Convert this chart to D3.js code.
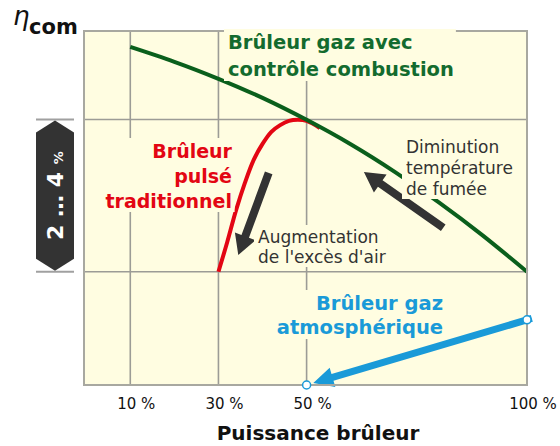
<!DOCTYPE html>
<html>
<head>
<meta charset="utf-8">
<script src="https://cdn.jsdelivr.net/npm/d3@7/dist/d3.min.js"></script>
<style>
  body { margin: 0; background: #fff; }
  text { font-family: "DejaVu Sans", Verdana, sans-serif; }
</style>
</head>
<body>
<div id="chart"></div>
<script>
// burner efficiency vs burner power

var xTicks = [10, 30, 50, 100];
var xTickLabels = ["10 %", "30 %", "50 %", "100 %"];
var yGrid = [32, 75];

// modulating gas burner with combustion control
var controlPower = [10, 20, 30, 40, 50, 60, 70, 80, 90, 100];
var controlEff = [95.5, 91.3, 86.5, 81.1, 74.9, 68.0, 60.2, 51.6, 42.2, 32];

// traditional forced draught burner
var pulsedPower = [30, 32, 34, 36, 38, 40, 42, 44, 46, 48, 50, 53];
var pulsedEff = [32, 40.4, 49.4, 57.1, 63.6, 68.1, 71.5, 73.4, 74.6, 74.9, 74.6, 72.6];

// atmospheric burner
var atmoPower = [100, 50];
var atmoEff = [18.4, 0];

// trend arrows [power, efficiency] tail -> head
var arrowFumes = [[81, 44.4], [63, 60.2]];
var arrowAir = [[41.4, 59.9], [34.5, 36.7]];

var width = 560,
    height = 446,
    bg = "#fffde1";

var svg = d3.select("#chart").append("svg")
  .attr("width", width)
  .attr("height", height);

var x = d3.scaleLinear().domain([-0.5, 100]).range([84, 527]);
var y = d3.scaleLinear().domain([0, 100]).range([385, 31]);

// plot background
svg.append("rect")
  .attr("x", x(-0.5)).attr("y", y(100))
  .attr("width", x(100) - x(-0.5)).attr("height", y(0) - y(100))
  .attr("fill", bg);

// grid
svg.selectAll(".vgrid")
  .data(xTicks.filter(function(d) { return d < 100; }))
  .enter().append("line")
  .attr("x1", function(d) { return x(d); }).attr("x2", function(d) { return x(d); })
  .attr("y1", y(100)).attr("y2", y(0))
  .attr("stroke", "#9c9c96").attr("stroke-width", 1.6);

svg.selectAll(".hgrid")
  .data(yGrid)
  .enter().append("line")
  .attr("x1", x(-0.5)).attr("x2", x(100))
  .attr("y1", function(d) { return y(d); }).attr("y2", function(d) { return y(d); })
  .attr("stroke", "#9c9c96").attr("stroke-width", 1.6);

var line = d3.line()
  .x(function(d) { return x(d[0]); })
  .y(function(d) { return y(d[1]); });

svg.append("path")
  .datum(d3.zip(pulsedPower, pulsedEff))
  .attr("d", line.curve(d3.curveCatmullRom))
  .attr("fill", "none")
  .attr("stroke", "#e30613")
  .attr("stroke-width", 4);

svg.append("path")
  .datum(d3.zip(controlPower, controlEff))
  .attr("d", line.curve(d3.curveNatural))
  .attr("fill", "none")
  .attr("stroke", "#0a5f1c")
  .attr("stroke-width", 4);

// arrow as a polygon
var arrowPoints = function(x1, y1, x2, y2, sw, hw, hl) {
  var dx = x2 - x1, dy = y2 - y1, len = Math.sqrt(dx*dx + dy*dy);
  var ux = dx/len, uy = dy/len, nx = -uy, ny = ux;
  var bx = x2 - ux*hl, by = y2 - uy*hl;
  var p = [
    [x1 + nx*sw/2, y1 + ny*sw/2],
    [bx + nx*sw/2, by + ny*sw/2],
    [bx + nx*hw/2, by + ny*hw/2],
    [x2, y2],
    [bx - nx*hw/2, by - ny*hw/2],
    [bx - nx*sw/2, by - ny*sw/2],
    [x1 - nx*sw/2, y1 - ny*sw/2]
  ];
  return p.map(function(d) { return d.join(","); }).join(" ");
};

[arrowFumes, arrowAir].forEach(function(a) {
  svg.append("polygon")
    .attr("points", arrowPoints(x(a[0][0]), y(a[0][1]), x(a[1][0]), y(a[1][1]), 8, 22, 20))
    .attr("fill", "#333333");
});

// atmospheric burner arrow
var ax1 = x(atmoPower[0]), ay1 = y(atmoEff[0]),
    ax2 = x(atmoPower[1]), ay2 = y(atmoEff[1]);
var alen = Math.sqrt((ax2-ax1)*(ax2-ax1) + (ay2-ay1)*(ay2-ay1));
svg.append("polygon")
  .attr("points", arrowPoints(ax1 - (ax2-ax1)/alen*5, ay1 - (ay2-ay1)/alen*5,
                              ax2 - (ax2-ax1)/alen*7, ay2 - (ay2-ay1)/alen*7, 7, 20, 20))
  .attr("fill", "#1a9ad8");

// plot border
svg.append("rect")
  .attr("x", x(-0.5)).attr("y", y(100))
  .attr("width", x(100) - x(-0.5)).attr("height", y(0) - y(100))
  .attr("fill", "none")
  .attr("stroke", "#a8a8a0").attr("stroke-width", 2);

svg.selectAll(".atmo")
  .data(d3.zip(atmoPower, atmoEff))
  .enter().append("circle")
  .attr("cx", function(d) { return x(d[0]); })
  .attr("cy", function(d) { return y(d[1]); })
  .attr("r", 4)
  .attr("fill", "#fff")
  .attr("stroke", "#1a9ad8").attr("stroke-width", 1.5);

// labels with a background box that hides the grid
var label = function(lines, px, py, dy, anchor, size, weight, color) {
  var g = svg.append("g");
  var r = g.append("rect").attr("fill", bg);
  var t = g.append("text")
    .attr("font-size", size)
    .attr("font-weight", weight)
    .attr("fill", color)
    .attr("text-anchor", anchor);
  lines.forEach(function(s, i) {
    t.append("tspan").attr("x", px).attr("y", py + i*dy).text(s);
  });
  var b = t.node().getBBox();
  r.attr("x", b.x - 4).attr("y", b.y - 2).attr("width", b.width + 6).attr("height", b.height + 2);
};

label(["Brûleur gaz avec", "contrôle combustion"], 228, 49, 27, "start", 19.5, "bold", "#136b2e");
label(["Brûleur", "pulsé", "traditionnel"], 232, 158, 25, "end", 19, "bold", "#e30613");
label(["Diminution", "température", "de fumée"], 406, 153, 21, "start", 17, "normal", "#333");
label(["Augmentation", "de l'excès d'air"], 258, 243, 20, "start", 17, "normal", "#333");
label(["Brûleur gaz", "atmosphérique"], 443, 310, 24, "end", 19.5, "bold", "#1a9ad8");

// x tick labels
svg.selectAll(".xlab")
  .data(xTicks)
  .enter().append("text")
  .attr("x", function(d) { return x(d) + 6; })
  .attr("y", 409)
  .attr("text-anchor", "middle")
  .attr("font-size", 15)
  .attr("fill", "#111")
  .text(function(d, i) { return xTickLabels[i]; });

svg.append("text")
  .attr("x", 318).attr("y", 440)
  .attr("text-anchor", "middle")
  .attr("font-size", 20)
  .attr("font-weight", "bold")
  .attr("fill", "#111")
  .text("Puissance brûleur");

// eta_com
svg.append("text")
  .attr("x", 13).attr("y", 25)
  .attr("font-family", "DejaVu Serif, serif")
  .attr("font-style", "italic")
  .attr("font-size", 26)
  .attr("fill", "#111")
  .text("η");
svg.append("text")
  .attr("x", 29).attr("y", 34)
  .attr("font-size", 21)
  .attr("font-weight", "bold")
  .attr("fill", "#111")
  .text("com");

// 2 ... 4 % badge
var yb1 = y(yGrid[1]), yb0 = y(yGrid[0]);
svg.selectAll(".btick")
  .data(yGrid)
  .enter().append("line")
  .attr("x1", 36).attr("x2", 74)
  .attr("y1", function(d) { return y(d); }).attr("y2", function(d) { return y(d); })
  .attr("stroke", "#a0a0a0").attr("stroke-width", 2);
svg.append("polygon")
  .attr("points", [[55, yb1 + 1], [74, yb1 + 13], [74, yb0 - 13], [55, yb0 - 1],
                   [36, yb0 - 13], [36, yb1 + 13]].map(function(d) { return d.join(","); }).join(" "))
  .attr("fill", "#333333");
var bt = svg.append("text")
  .attr("transform", "translate(63," + ((yb0 + yb1)/2) + ") rotate(-90)")
  .attr("text-anchor", "middle")
  .attr("fill", "#fff")
  .attr("font-weight", "bold");
bt.append("tspan").attr("font-size", 22).text("2 … 4 ");
bt.append("tspan").attr("font-size", 13).text("%");
</script>
</body>
</html>
